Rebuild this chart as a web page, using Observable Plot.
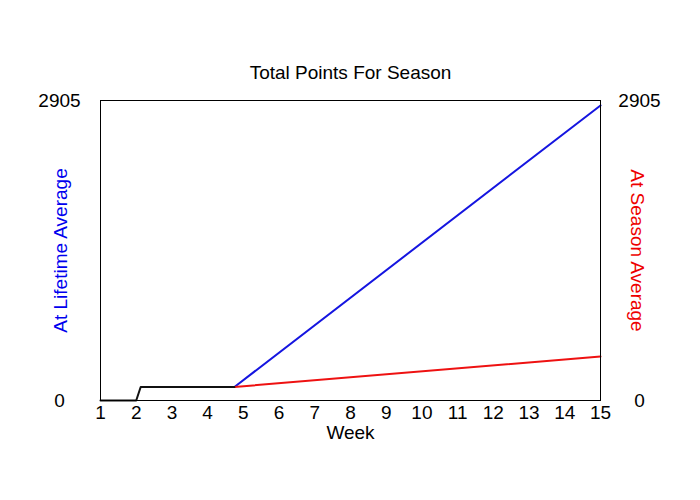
<!DOCTYPE html>
<html>
<head>
<meta charset="utf-8">
<script src="https://cdn.jsdelivr.net/npm/d3@7"></script>
<script src="https://cdn.jsdelivr.net/npm/@observablehq/plot@0.6"></script>
<style>
  html, body { margin: 0; padding: 0; background: #fff; }
</style>
</head>
<body>
<div id="chart"></div>
<script>
const title = "Total Points For Season";
const xLabel = "Week";
const leftLabel = "At Lifetime Average";
const rightLabel = "At Season Average";
const weekTicks = [1,2,3,4,5,6,7,8,9,10,11,12,13,14,15];
const yTicks = [0, 2905];

const actualWeeks = [1, 2, 2.125, 4.75];
const actualPoints = [0, 0, 131, 131];
const lifetimeWeeks = [4.75, 15];
const lifetimePoints = [131, 2857];
const seasonWeeks = [4.75, 15];
const seasonPoints = [131, 426];

const toRows = (xs, ys) => xs.map((x, i) => ({week: x, value: ys[i]}));
const actual = toRows(actualWeeks, actualPoints);
const lifetime = toRows(lifetimeWeeks, lifetimePoints);
const season = toRows(seasonWeeks, seasonPoints);

const font = "'Liberation Sans', Arial, sans-serif";
const chart = Plot.plot({
  width: 700,
  height: 500,
  marginLeft: 100,
  marginRight: 100,
  marginTop: 100,
  marginBottom: 100,
  style: {fontFamily: font, fontSize: "19px", background: "#fff", color: "#000"},
  x: {domain: [1, 15], axis: null},
  y: {domain: [0, 2905], axis: null},
  marks: [
    Plot.line(lifetime, {x: "week", y: "value", stroke: "#1515e0", strokeWidth: 2}),
    Plot.line(season, {x: "week", y: "value", stroke: "#ee1111", strokeWidth: 2}),
    Plot.line(actual, {x: "week", y: "value", stroke: "#111", strokeWidth: 2}),
    Plot.frame({stroke: "#000", strokeWidth: 1}),
    Plot.text(weekTicks, {x: d => d, text: d => String(d), frameAnchor: "bottom", dy: 12, textAnchor: "middle", lineAnchor: "middle", fill: "#000"}),
    Plot.text(yTicks, {y: d => d, text: d => String(d), frameAnchor: "left", dx: -41, textAnchor: "middle", lineAnchor: "middle", fill: "#000"}),
    Plot.text(yTicks, {y: d => d, text: d => String(d), frameAnchor: "right", dx: 39, textAnchor: "middle", lineAnchor: "middle", fill: "#000"}),
    Plot.text([title], {text: d => d, frameAnchor: "top", dy: -28, textAnchor: "middle", lineAnchor: "middle", fill: "#000"}),
    Plot.text([xLabel], {text: d => d, frameAnchor: "bottom", dy: 32, textAnchor: "middle", lineAnchor: "middle", fill: "#000"}),
    Plot.text([leftLabel], {text: d => d, frameAnchor: "left", dx: -40, rotate: -90, textAnchor: "middle", lineAnchor: "middle", fill: "#0000ee"}),
    Plot.text([rightLabel], {text: d => d, frameAnchor: "right", dx: 37, rotate: 90, textAnchor: "middle", lineAnchor: "middle", fill: "#ee0000"})
  ]
});
document.getElementById("chart").appendChild(chart);
</script>
</body>
</html>
